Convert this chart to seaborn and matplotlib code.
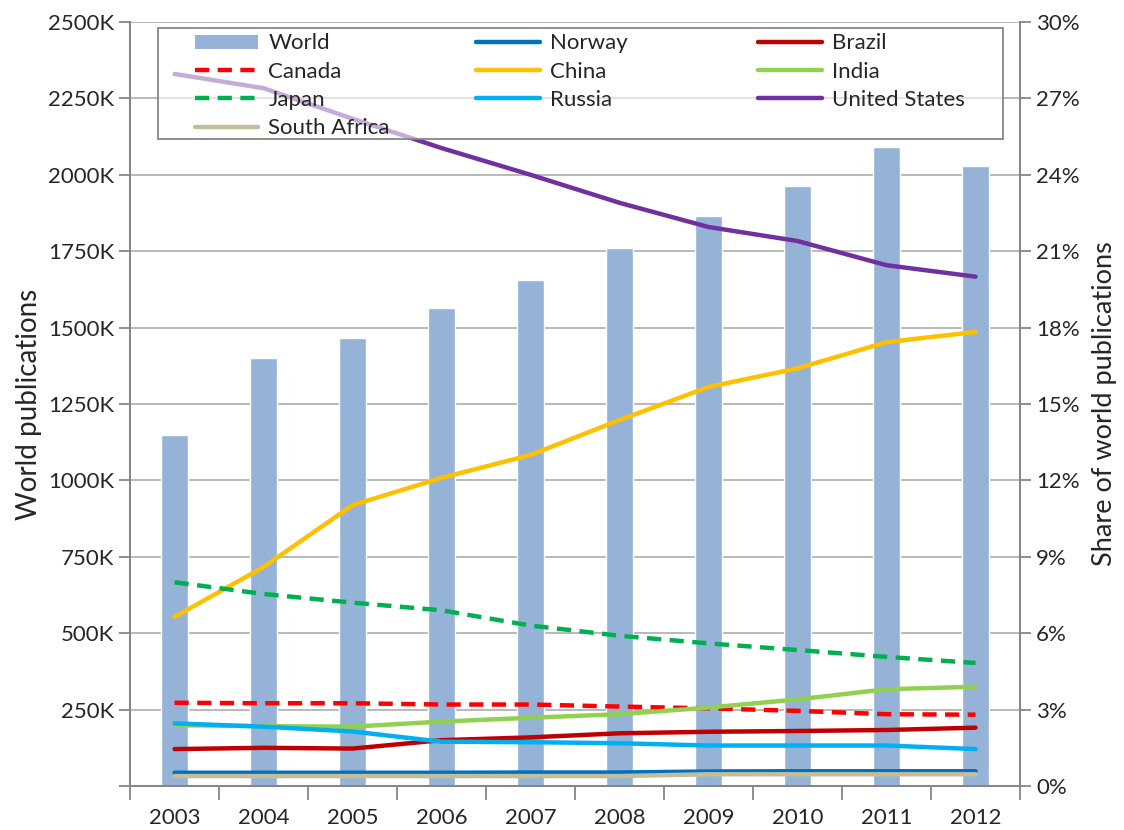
import numpy as np
import pandas as pd
import matplotlib.pyplot as plt
import seaborn as sns
from matplotlib.patches import Patch, Rectangle
from matplotlib.lines import Line2D
from matplotlib.legend import Legend
from matplotlib.ticker import FuncFormatter, MultipleLocator

sns.set_style('white')
plt.rcParams['font.family'] = ['Lato', 'DejaVu Sans']

years = [2003, 2004, 2005, 2006, 2007, 2008, 2009, 2010, 2011, 2012]
world = [1147, 1400, 1467, 1565, 1657, 1760, 1865, 1963, 2092, 2030]   # thousands

# share of world publications, %
norway = [0.52, 0.52, 0.52, 0.52, 0.53, 0.53, 0.57, 0.58, 0.58, 0.58]
brazil = [1.45, 1.50, 1.47, 1.80, 1.91, 2.07, 2.13, 2.16, 2.20, 2.29]
canada = [3.27, 3.25, 3.25, 3.20, 3.20, 3.12, 3.05, 2.95, 2.82, 2.80]
china = [6.64, 8.60, 11.03, 12.10, 13.00, 14.37, 15.67, 16.40, 17.43, 17.83]
india = [2.39, 2.35, 2.33, 2.53, 2.68, 2.82, 3.08, 3.40, 3.80, 3.90]
japan = [8.00, 7.54, 7.20, 6.90, 6.30, 5.90, 5.60, 5.34, 5.07, 4.83]
russia = [2.46, 2.33, 2.14, 1.74, 1.72, 1.68, 1.59, 1.59, 1.59, 1.45]
usa = [27.96, 27.40, 26.20, 25.05, 24.00, 22.90, 21.95, 21.40, 20.45, 20.00]
south_africa = [0.39, 0.39, 0.39, 0.39, 0.39, 0.39, 0.46, 0.46, 0.46, 0.46]

dash = (0, (3.2, 1.9))
series = [
    ('Norway', norway, '#0070c0', '-'),
    ('Brazil', brazil, '#c00000', '-'),
    ('Canada', canada, '#ff0000', dash),
    ('China', china, '#ffc000', '-'),
    ('India', india, '#92d050', '-'),
    ('Japan', japan, '#00b050', dash),
    ('Russia', russia, '#00b0f0', '-'),
    ('United States', usa, '#7030a0', '-'),
    ('South Africa', south_africa, '#c4bd97', '-'),
]
legend_cols = [['World', 'Canada', 'Japan', 'South Africa'],
               ['Norway', 'China', 'Russia'],
               ['Brazil', 'India', 'United States']]

fig = plt.figure(figsize=(11.24, 8.3), dpi=100)
ax = fig.add_axes([0.1157, 0.053, 0.7918, 0.9205])

sns.barplot(x=years, y=world, native_scale=True, color='#95b3d7', saturation=1,
            width=0.31, ax=ax)
ax.set_xlim(2002.5, 2012.5)
ax.set_ylim(0, 2500)
ax.yaxis.set_major_locator(MultipleLocator(250))
ax.yaxis.set_major_formatter(FuncFormatter(lambda v, p: '' if v == 0 else f'{int(v)}K'))
ax.set_xticks(years)
ax.set_xticklabels([str(y) for y in years])
ax.set_xticks(np.arange(2002.5, 2013, 1), minor=True)
ax.tick_params(axis='x', which='major', length=0, pad=16, labelsize=16)
ax.tick_params(axis='x', which='minor', length=10, width=1.3, color='#868686', direction='out', bottom=True)
ax.tick_params(axis='y', length=8, width=1.3, color='#868686', direction='out', labelsize=16, left=True)
ax.grid(axis='y', color='#b3b3b3', lw=1.3)
ax.set_axisbelow(True)
ax.set_ylabel('World publications', fontsize=20, labelpad=4)
ax.set_xlabel('')
for s in ['left', 'bottom', 'right']:
    ax.spines[s].set_color('#868686')
    ax.spines[s].set_linewidth(1.3)
ax.spines['top'].set_visible(False)

ax2 = ax.twinx()
for name, vals, color, ls in series:
    sns.lineplot(x=years, y=vals, color=color, linestyle=ls, lw=3.2, ax=ax2)
ax2.set_ylim(0, 30)
ax2.yaxis.set_major_locator(MultipleLocator(3))
ax2.yaxis.set_major_formatter(FuncFormatter(lambda v, p: f'{int(v)}%'))
ax2.tick_params(axis='y', length=8, width=1.3, color='#868686', direction='out', labelsize=16, right=True)
ax2.set_ylabel('Share of world publications', fontsize=19.5, labelpad=9)
for s in ['left', 'bottom', 'right']:
    ax2.spines[s].set_color('#868686')
    ax2.spines[s].set_linewidth(1.3)
ax2.spines['top'].set_visible(False)

# legend: a semi-transparent box with three evenly spaced columns
ax2.add_patch(Rectangle((0.0315, 0.847), 0.9495, 0.145, transform=ax2.transAxes,
                        facecolor=(1, 1, 1, 0.6), edgecolor='#868686', lw=1.3, zorder=4.5))
style = {name: (color, ls) for name, vals, color, ls in series}
col_x = [0.073, 0.389, 0.706]
for cx, names in zip(col_x, legend_cols):
    handles = []
    for n in names:
        if n == 'World':
            handles.append(Patch(facecolor='#95b3d7', edgecolor='none'))
        else:
            handles.append(Line2D([], [], color=style[n][0], linestyle=style[n][1], lw=3.2))
    leg = Legend(ax2, handles, names, loc='upper left', bbox_to_anchor=(cx, 0.985),
                 bbox_transform=ax2.transAxes, borderaxespad=0, borderpad=0,
                 fontsize=16, handlelength=2.85, handleheight=0.6, handletextpad=0.45,
                 labelspacing=0.37, frameon=False)
    leg.set_zorder(5)
    ax2.add_artist(leg)

fig.savefig('out.png', dpi=100)
